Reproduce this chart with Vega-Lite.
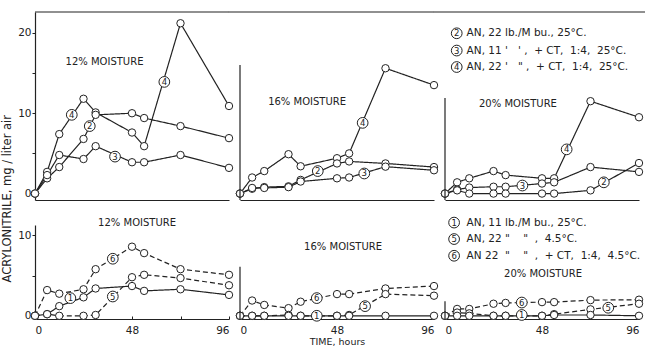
{
  "$schema": "https://vega.github.io/schema/vega-lite/v6.json",
  "background": "white",
  "padding": {"left": 2, "top": 11, "right": 0, "bottom": 0},
  "title": {"text": "ACRYLONITRILE, mg / liter air", "orient": "left", "anchor": "middle", "font": "DejaVu Sans", "fontSize": 11.5, "fontWeight": "normal", "color": "#222", "offset": 4, "dx": -20},
  "config": {
    "view": {"stroke": null},
    "axis": {"domainColor": "#222", "tickColor": "#222", "labelColor": "#222", "labelFont": "DejaVu Sans", "labelFontSize": 10.5, "titleFont": "DejaVu Sans", "titleFontWeight": "normal", "titleColor": "#222", "titleFontSize": 9.5, "grid": false, "domainWidth": 1.2, "tickWidth": 1},
    "line": {"color": "#222", "strokeWidth": 1.2},
    "rule": {"color": "#222", "strokeWidth": 1.2}
  },
  "datasets": {
    "series": [
      {"p":"T1","s":"4","d":"solid","t":0,"v":0},{"p":"T1","s":"4","d":"solid","t":6,"v":2.7},{"p":"T1","s":"4","d":"solid","t":12,"v":7.4},{"p":"T1","s":"4","d":"solid","t":24,"v":11.8},{"p":"T1","s":"4","d":"solid","t":30,"v":10.1},{"p":"T1","s":"4","d":"solid","t":48,"v":7.6},{"p":"T1","s":"4","d":"solid","t":54,"v":5.9},{"p":"T1","s":"4","d":"solid","t":72,"v":21.2},{"p":"T1","s":"4","d":"solid","t":96,"v":10.9},
      {"p":"T1","s":"2","d":"solid","t":0,"v":0},{"p":"T1","s":"2","d":"solid","t":6,"v":1.9},{"p":"T1","s":"2","d":"solid","t":12,"v":3.3},{"p":"T1","s":"2","d":"solid","t":24,"v":6.8},{"p":"T1","s":"2","d":"solid","t":30,"v":9.8},{"p":"T1","s":"2","d":"solid","t":48,"v":10.0},{"p":"T1","s":"2","d":"solid","t":54,"v":9.4},{"p":"T1","s":"2","d":"solid","t":72,"v":8.4},{"p":"T1","s":"2","d":"solid","t":96,"v":6.9},
      {"p":"T1","s":"3","d":"solid","t":0,"v":0},{"p":"T1","s":"3","d":"solid","t":6,"v":2.3},{"p":"T1","s":"3","d":"solid","t":12,"v":4.8},{"p":"T1","s":"3","d":"solid","t":24,"v":4.3},{"p":"T1","s":"3","d":"solid","t":30,"v":5.9},{"p":"T1","s":"3","d":"solid","t":48,"v":3.9},{"p":"T1","s":"3","d":"solid","t":54,"v":3.9},{"p":"T1","s":"3","d":"solid","t":72,"v":4.8},{"p":"T1","s":"3","d":"solid","t":96,"v":3.2},
      {"p":"T2","s":"4","d":"solid","t":0,"v":0},{"p":"T2","s":"4","d":"solid","t":6,"v":2.0},{"p":"T2","s":"4","d":"solid","t":12,"v":2.8},{"p":"T2","s":"4","d":"solid","t":24,"v":4.9},{"p":"T2","s":"4","d":"solid","t":30,"v":3.4},{"p":"T2","s":"4","d":"solid","t":48,"v":4.4},{"p":"T2","s":"4","d":"solid","t":54,"v":5.0},{"p":"T2","s":"4","d":"solid","t":72,"v":15.6},{"p":"T2","s":"4","d":"solid","t":96,"v":13.5},
      {"p":"T2","s":"2","d":"solid","t":0,"v":0},{"p":"T2","s":"2","d":"solid","t":6,"v":0.6},{"p":"T2","s":"2","d":"solid","t":12,"v":0.8},{"p":"T2","s":"2","d":"solid","t":24,"v":0.9},{"p":"T2","s":"2","d":"solid","t":30,"v":1.7},{"p":"T2","s":"2","d":"solid","t":48,"v":3.75},{"p":"T2","s":"2","d":"solid","t":54,"v":4.0},{"p":"T2","s":"2","d":"solid","t":72,"v":3.75},{"p":"T2","s":"2","d":"solid","t":96,"v":3.3},
      {"p":"T2","s":"3","d":"solid","t":0,"v":0},{"p":"T2","s":"3","d":"solid","t":6,"v":0.7},{"p":"T2","s":"3","d":"solid","t":12,"v":0.7},{"p":"T2","s":"3","d":"solid","t":24,"v":0.8},{"p":"T2","s":"3","d":"solid","t":30,"v":1.5},{"p":"T2","s":"3","d":"solid","t":48,"v":1.9},{"p":"T2","s":"3","d":"solid","t":54,"v":2.0},{"p":"T2","s":"3","d":"solid","t":72,"v":3.35},{"p":"T2","s":"3","d":"solid","t":96,"v":2.9},
      {"p":"T3","s":"4","d":"solid","t":0,"v":0},{"p":"T3","s":"4","d":"solid","t":6,"v":1.4},{"p":"T3","s":"4","d":"solid","t":12,"v":1.9},{"p":"T3","s":"4","d":"solid","t":24,"v":2.8},{"p":"T3","s":"4","d":"solid","t":30,"v":2.3},{"p":"T3","s":"4","d":"solid","t":48,"v":1.9},{"p":"T3","s":"4","d":"solid","t":54,"v":1.9},{"p":"T3","s":"4","d":"solid","t":72,"v":11.5},{"p":"T3","s":"4","d":"solid","t":96,"v":9.5},
      {"p":"T3","s":"3","d":"solid","t":0,"v":0},{"p":"T3","s":"3","d":"solid","t":6,"v":0.5},{"p":"T3","s":"3","d":"solid","t":12,"v":0.75},{"p":"T3","s":"3","d":"solid","t":24,"v":0.85},{"p":"T3","s":"3","d":"solid","t":30,"v":0.85},{"p":"T3","s":"3","d":"solid","t":48,"v":1.25},{"p":"T3","s":"3","d":"solid","t":54,"v":1.4},{"p":"T3","s":"3","d":"solid","t":72,"v":3.3},{"p":"T3","s":"3","d":"solid","t":96,"v":2.7},
      {"p":"T3","s":"2","d":"solid","t":0,"v":0},{"p":"T3","s":"2","d":"solid","t":6,"v":0.4},{"p":"T3","s":"2","d":"solid","t":12,"v":0},{"p":"T3","s":"2","d":"solid","t":24,"v":0},{"p":"T3","s":"2","d":"solid","t":30,"v":0},{"p":"T3","s":"2","d":"solid","t":48,"v":0},{"p":"T3","s":"2","d":"solid","t":54,"v":0},{"p":"T3","s":"2","d":"solid","t":72,"v":0.4},{"p":"T3","s":"2","d":"solid","t":96,"v":3.8},
      {"p":"B1","s":"6","d":"dashed","t":0,"v":0},{"p":"B1","s":"6","d":"dashed","t":6,"v":3.2},{"p":"B1","s":"6","d":"dashed","t":12,"v":2.75},{"p":"B1","s":"6","d":"dashed","t":24,"v":3.3},{"p":"B1","s":"6","d":"dashed","t":30,"v":5.8},{"p":"B1","s":"6","d":"dashed","t":48,"v":8.6},{"p":"B1","s":"6","d":"dashed","t":54,"v":7.8},{"p":"B1","s":"6","d":"dashed","t":72,"v":5.8},{"p":"B1","s":"6","d":"dashed","t":96,"v":5.1},
      {"p":"B1","s":"5","d":"dashed","t":0,"v":0},{"p":"B1","s":"5","d":"dashed","t":6,"v":0.2},{"p":"B1","s":"5","d":"dashed","t":12,"v":0},{"p":"B1","s":"5","d":"dashed","t":24,"v":0},{"p":"B1","s":"5","d":"dashed","t":30,"v":0.1},{"p":"B1","s":"5","d":"dashed","t":48,"v":4.8},{"p":"B1","s":"5","d":"dashed","t":54,"v":5.1},{"p":"B1","s":"5","d":"dashed","t":72,"v":4.7},{"p":"B1","s":"5","d":"dashed","t":96,"v":3.8},
      {"p":"B1","s":"1","d":"solid","t":0,"v":0},{"p":"B1","s":"1","d":"solid","t":6,"v":0.2},{"p":"B1","s":"1","d":"solid","t":12,"v":1.2},{"p":"B1","s":"1","d":"solid","t":24,"v":2.3},{"p":"B1","s":"1","d":"solid","t":30,"v":3.4},{"p":"B1","s":"1","d":"solid","t":48,"v":3.7},{"p":"B1","s":"1","d":"solid","t":54,"v":3.1},{"p":"B1","s":"1","d":"solid","t":72,"v":3.3},{"p":"B1","s":"1","d":"solid","t":96,"v":2.6},
      {"p":"B2","s":"6","d":"dashed","t":0,"v":0},{"p":"B2","s":"6","d":"dashed","t":6,"v":1.9},{"p":"B2","s":"6","d":"dashed","t":12,"v":1.35},{"p":"B2","s":"6","d":"dashed","t":24,"v":0.95},{"p":"B2","s":"6","d":"dashed","t":30,"v":1.75},{"p":"B2","s":"6","d":"dashed","t":48,"v":2.7},{"p":"B2","s":"6","d":"dashed","t":54,"v":2.7},{"p":"B2","s":"6","d":"dashed","t":72,"v":3.4},{"p":"B2","s":"6","d":"dashed","t":96,"v":3.7},
      {"p":"B2","s":"5","d":"dashed","t":0,"v":0},{"p":"B2","s":"5","d":"dashed","t":6,"v":0},{"p":"B2","s":"5","d":"dashed","t":12,"v":0},{"p":"B2","s":"5","d":"dashed","t":24,"v":0.1},{"p":"B2","s":"5","d":"dashed","t":30,"v":0},{"p":"B2","s":"5","d":"dashed","t":48,"v":0},{"p":"B2","s":"5","d":"dashed","t":54,"v":0.1},{"p":"B2","s":"5","d":"dashed","t":72,"v":2.7},{"p":"B2","s":"5","d":"dashed","t":96,"v":2.5},
      {"p":"B2","s":"1","d":"solid","t":0,"v":0},{"p":"B2","s":"1","d":"solid","t":6,"v":0},{"p":"B2","s":"1","d":"solid","t":12,"v":0},{"p":"B2","s":"1","d":"solid","t":24,"v":0},{"p":"B2","s":"1","d":"solid","t":30,"v":0},{"p":"B2","s":"1","d":"solid","t":48,"v":0},{"p":"B2","s":"1","d":"solid","t":54,"v":0},{"p":"B2","s":"1","d":"solid","t":72,"v":0},{"p":"B2","s":"1","d":"solid","t":96,"v":0},
      {"p":"B3","s":"6","d":"dashed","t":0,"v":0},{"p":"B3","s":"6","d":"dashed","t":6,"v":0.85},{"p":"B3","s":"6","d":"dashed","t":12,"v":0.85},{"p":"B3","s":"6","d":"dashed","t":24,"v":1.5},{"p":"B3","s":"6","d":"dashed","t":30,"v":1.6},{"p":"B3","s":"6","d":"dashed","t":48,"v":1.7},{"p":"B3","s":"6","d":"dashed","t":54,"v":1.7},{"p":"B3","s":"6","d":"dashed","t":72,"v":1.95},{"p":"B3","s":"6","d":"dashed","t":96,"v":2.0},
      {"p":"B3","s":"5","d":"dashed","t":0,"v":0},{"p":"B3","s":"5","d":"dashed","t":6,"v":0.4},{"p":"B3","s":"5","d":"dashed","t":12,"v":0.3},{"p":"B3","s":"5","d":"dashed","t":24,"v":0},{"p":"B3","s":"5","d":"dashed","t":30,"v":0},{"p":"B3","s":"5","d":"dashed","t":48,"v":0},{"p":"B3","s":"5","d":"dashed","t":54,"v":0.2},{"p":"B3","s":"5","d":"dashed","t":72,"v":0.8},{"p":"B3","s":"5","d":"dashed","t":96,"v":1.5},
      {"p":"B3","s":"1","d":"solid","t":0,"v":0},{"p":"B3","s":"1","d":"solid","t":6,"v":0},{"p":"B3","s":"1","d":"solid","t":12,"v":0},{"p":"B3","s":"1","d":"solid","t":24,"v":0},{"p":"B3","s":"1","d":"solid","t":30,"v":0},{"p":"B3","s":"1","d":"solid","t":48,"v":0},{"p":"B3","s":"1","d":"solid","t":54,"v":0.1},{"p":"B3","s":"1","d":"solid","t":72,"v":0.1},{"p":"B3","s":"1","d":"solid","t":96,"v":0}
    ],
    "labels": [
      {"p":"T1","t":18.2,"v":9.8,"n":"4"},{"p":"T1","t":64,"v":13.9,"n":"4"},{"p":"T1","t":27.1,"v":8.4,"n":"2"},{"p":"T1","t":39.6,"v":4.6,"n":"3"},
      {"p":"T2","t":60.7,"v":8.8,"n":"4"},{"p":"T2","t":38.5,"v":2.8,"n":"2"},{"p":"T2","t":61.5,"v":2.5,"n":"3"},
      {"p":"T3","t":60.2,"v":5.5,"n":"4"},{"p":"T3","t":38.3,"v":1.0,"n":"3"},{"p":"T3","t":78.6,"v":1.4,"n":"2"},
      {"p":"T3","t":5.8,"v":19.95,"n":"2"},{"p":"T3","t":5.8,"v":17.8,"n":"3"},{"p":"T3","t":5.8,"v":15.75,"n":"4"},
      {"p":"B1","t":38.5,"v":7.1,"n":"6"},{"p":"B1","t":17.5,"v":2.2,"n":"1"},{"p":"B1","t":38.5,"v":2.4,"n":"5"},
      {"p":"B2","t":38,"v":2.2,"n":"6"},{"p":"B2","t":38,"v":0,"n":"1"},{"p":"B2","t":61.9,"v":1.2,"n":"5"},
      {"p":"B3","t":38,"v":1.65,"n":"6"},{"p":"B3","t":38,"v":0.1,"n":"1"},{"p":"B3","t":80.8,"v":1.0,"n":"5"},
      {"p":"B3","t":4.5,"v":11.6,"n":"1"},{"p":"B3","t":4.5,"v":9.55,"n":"5"},{"p":"B3","t":4.5,"v":7.47,"n":"6"}
    ],
    "notes": [
      {"p":"T1","k":"c","t":34.4,"v":16.4,"text":"12% MOISTURE"},
      {"p":"T2","k":"c","t":33.2,"v":11.4,"text":"16% MOISTURE"},
      {"p":"T3","k":"c","t":36.1,"v":11.2,"text":"20% MOISTURE"},
      {"p":"B1","k":"c","t":50.5,"v":11.6,"text":"12% MOISTURE"},
      {"p":"B2","k":"c","t":51,"v":8.5,"text":"16% MOISTURE"},
      {"p":"B3","k":"c","t":48.5,"v":5.2,"text":"20% MOISTURE"},
      {"p":"T3","k":"l","t":10.7,"v":19.95,"text":"AN, 22 lb./M bu., 25°C."},
      {"p":"T3","k":"l","t":10.7,"v":17.8,"text":"AN, 11\u00a0'\u00a0\u00a0\u00a0'\u00a0,\u00a0\u00a0+\u00a0CT,\u00a0\u00a01:4,\u00a0\u00a025°C."},
      {"p":"T3","k":"l","t":10.7,"v":15.75,"text":"AN, 22\u00a0'\u00a0\u00a0\u00a0\"\u00a0,\u00a0\u00a0+\u00a0CT,\u00a0\u00a01:4,\u00a0\u00a025°C."},
      {"p":"B3","k":"l","t":10.7,"v":11.6,"text":"AN, 11 lb./M bu., 25°C."},
      {"p":"B3","k":"l","t":10.7,"v":9.55,"text":"AN, 22\u00a0\"\u00a0\u00a0\u00a0\u00a0\"\u00a0\u00a0,\u00a0\u00a04.5°C."},
      {"p":"B3","k":"l","t":10.7,"v":7.47,"text":"AN 22\u00a0\u00a0\"\u00a0\u00a0\u00a0\u00a0\"\u00a0\u00a0,\u00a0\u00a0+\u00a0CT,\u00a0\u00a01:4,\u00a0\u00a04.5°C."}
    ],
    "frame": [
      {"p":"T1","t":0,"t2":96,"v":22.6,"v2":22.6},
      {"p":"T2","t":-5.5,"t2":96,"v":22.6,"v2":22.6},
      {"p":"T2","t":0,"t2":0,"v":-0.8,"v2":16.0},
      {"p":"T3","t":-5.5,"t2":99,"v":22.6,"v2":22.6},
      {"p":"T3","t":0,"t2":0,"v":-0.8,"v2":11.9},
      {"p":"B2","t":0,"t2":0,"v":-0.4,"v2":6.1},
      {"p":"B3","t":0,"t2":0,"v":-0.4,"v2":1.8}
    ]
  },
  "spacing": 14,
  "vconcat": [
    {
      "spacing": 11,
      "bounds": "flush",
      "hconcat": [
        {
          "width": 194, "height": 188,
          "encoding": {
            "x": {"field": "t", "type": "quantitative", "scale": {"domain": [0, 96]}, "axis": {"title": null, "labels": false, "ticks": false}},
            "y": {"field": "v", "type": "quantitative", "scale": {"domain": [-0.8, 22.6]}, "axis": {"title": null, "values": [0, 5, 10, 15, 20], "labelExpr": "datum.value % 10 === 0 ? datum.label : ''", "tickSize": 3, "labelPadding": 1}}
          },
          "layer": [
            {"data": {"name": "series"}, "transform": [{"filter": "datum.p === 'T1'"}], "mark": "line",
             "encoding": {"detail": {"field": "s"}, "strokeDash": {"field": "d", "type": "nominal", "scale": {"domain": ["solid", "dashed"], "range": [[1, 0], [5, 3]]}, "legend": null}}},
            {"data": {"name": "series"}, "transform": [{"filter": "datum.p === 'T1'"}],
             "mark": {"type": "point", "shape": "circle", "filled": true, "fill": "white", "stroke": "#222", "strokeWidth": 1, "size": 55, "opacity": 1}},
            {"data": {"name": "labels"}, "transform": [{"filter": "datum.p === 'T1'"}],
             "mark": {"type": "point", "shape": "circle", "filled": true, "fill": "white", "stroke": "#222", "strokeWidth": 1, "size": 115, "opacity": 1}},
            {"data": {"name": "labels"}, "transform": [{"filter": "datum.p === 'T1'"}],
             "mark": {"type": "text", "font": "DejaVu Sans", "fontSize": 8.5, "color": "#222", "align": "center", "baseline": "middle"},
             "encoding": {"text": {"field": "n"}}},
            {"data": {"name": "notes"}, "transform": [{"filter": "datum.p === 'T1' && datum.k === 'c'"}],
             "mark": {"type": "text", "font": "DejaVu Sans", "fontSize": 10, "color": "#222", "align": "center", "baseline": "middle"},
             "encoding": {"text": {"field": "text"}}},
            {"data": {"name": "frame"}, "transform": [{"filter": "datum.p === 'T1'"}], "mark": "rule",
             "encoding": {"x2": {"field": "t2"}, "y2": {"field": "v2"}}}
          ]
        },
        {
          "width": 194, "height": 188,
          "encoding": {
            "x": {"field": "t", "type": "quantitative", "scale": {"domain": [0, 96]}, "axis": {"title": null, "labels": false, "ticks": false}},
            "y": {"field": "v", "type": "quantitative", "scale": {"domain": [-0.8, 22.6]}, "axis": null}
          },
          "layer": [
            {"data": {"name": "series"}, "transform": [{"filter": "datum.p === 'T2'"}], "mark": "line",
             "encoding": {"detail": {"field": "s"}, "strokeDash": {"field": "d", "type": "nominal", "scale": {"domain": ["solid", "dashed"], "range": [[1, 0], [5, 3]]}, "legend": null}}},
            {"data": {"name": "series"}, "transform": [{"filter": "datum.p === 'T2'"}],
             "mark": {"type": "point", "shape": "circle", "filled": true, "fill": "white", "stroke": "#222", "strokeWidth": 1, "size": 55, "opacity": 1}},
            {"data": {"name": "labels"}, "transform": [{"filter": "datum.p === 'T2'"}],
             "mark": {"type": "point", "shape": "circle", "filled": true, "fill": "white", "stroke": "#222", "strokeWidth": 1, "size": 115, "opacity": 1}},
            {"data": {"name": "labels"}, "transform": [{"filter": "datum.p === 'T2'"}],
             "mark": {"type": "text", "font": "DejaVu Sans", "fontSize": 8.5, "color": "#222", "align": "center", "baseline": "middle"},
             "encoding": {"text": {"field": "n"}}},
            {"data": {"name": "notes"}, "transform": [{"filter": "datum.p === 'T2' && datum.k === 'c'"}],
             "mark": {"type": "text", "font": "DejaVu Sans", "fontSize": 10, "color": "#222", "align": "center", "baseline": "middle"},
             "encoding": {"text": {"field": "text"}}},
            {"data": {"name": "frame"}, "transform": [{"filter": "datum.p === 'T2'"}], "mark": "rule",
             "encoding": {"x2": {"field": "t2"}, "y2": {"field": "v2"}}}
          ]
        },
        {
          "width": 194, "height": 188,
          "encoding": {
            "x": {"field": "t", "type": "quantitative", "scale": {"domain": [0, 96]}, "axis": {"title": null, "labels": false, "ticks": false}},
            "y": {"field": "v", "type": "quantitative", "scale": {"domain": [-0.8, 22.6]}, "axis": null}
          },
          "layer": [
            {"data": {"name": "series"}, "transform": [{"filter": "datum.p === 'T3'"}], "mark": "line",
             "encoding": {"detail": {"field": "s"}, "strokeDash": {"field": "d", "type": "nominal", "scale": {"domain": ["solid", "dashed"], "range": [[1, 0], [5, 3]]}, "legend": null}}},
            {"data": {"name": "series"}, "transform": [{"filter": "datum.p === 'T3'"}],
             "mark": {"type": "point", "shape": "circle", "filled": true, "fill": "white", "stroke": "#222", "strokeWidth": 1, "size": 55, "opacity": 1}},
            {"data": {"name": "labels"}, "transform": [{"filter": "datum.p === 'T3'"}],
             "mark": {"type": "point", "shape": "circle", "filled": true, "fill": "white", "stroke": "#222", "strokeWidth": 1, "size": 115, "opacity": 1}},
            {"data": {"name": "labels"}, "transform": [{"filter": "datum.p === 'T3'"}],
             "mark": {"type": "text", "font": "DejaVu Sans", "fontSize": 8.5, "color": "#222", "align": "center", "baseline": "middle"},
             "encoding": {"text": {"field": "n"}}},
            {"data": {"name": "notes"}, "transform": [{"filter": "datum.p === 'T3' && datum.k === 'c'"}],
             "mark": {"type": "text", "font": "DejaVu Sans", "fontSize": 10, "color": "#222", "align": "center", "baseline": "middle"},
             "encoding": {"text": {"field": "text"}}},
            {"data": {"name": "notes"}, "transform": [{"filter": "datum.p === 'T3' && datum.k === 'l'"}],
             "mark": {"type": "text", "font": "DejaVu Sans", "fontSize": 10.5, "color": "#222", "align": "left", "baseline": "middle"},
             "encoding": {"text": {"field": "text"}}},
            {"data": {"name": "frame"}, "transform": [{"filter": "datum.p === 'T3'"}], "mark": "rule",
             "encoding": {"x2": {"field": "t2"}, "y2": {"field": "v2"}}}
          ]
        }
      ]
    },
    {
      "spacing": 11,
      "bounds": "flush",
      "hconcat": [
        {
          "width": 194, "height": 94,
          "encoding": {
            "x": {"field": "t", "type": "quantitative", "scale": {"domain": [0, 96]}, "axis": {"title": null, "values": [0, 24, 48, 72, 96], "labelExpr": "datum.value % 48 === 0 ? datum.label : ''", "tickSize": -3, "labelPadding": 9}},
            "y": {"field": "v", "type": "quantitative", "scale": {"domain": [-0.4, 11.3]}, "axis": {"title": null, "values": [0, 5, 10], "labelExpr": "datum.value % 10 === 0 ? datum.label : ''", "tickSize": 3, "labelPadding": 1}}
          },
          "layer": [
            {"data": {"name": "series"}, "transform": [{"filter": "datum.p === 'B1'"}], "mark": "line",
             "encoding": {"detail": {"field": "s"}, "strokeDash": {"field": "d", "type": "nominal", "scale": {"domain": ["solid", "dashed"], "range": [[1, 0], [5, 3]]}, "legend": null}}},
            {"data": {"name": "series"}, "transform": [{"filter": "datum.p === 'B1'"}],
             "mark": {"type": "point", "shape": "circle", "filled": true, "fill": "white", "stroke": "#222", "strokeWidth": 1, "size": 55, "opacity": 1}},
            {"data": {"name": "labels"}, "transform": [{"filter": "datum.p === 'B1'"}],
             "mark": {"type": "point", "shape": "circle", "filled": true, "fill": "white", "stroke": "#222", "strokeWidth": 1, "size": 115, "opacity": 1}},
            {"data": {"name": "labels"}, "transform": [{"filter": "datum.p === 'B1'"}],
             "mark": {"type": "text", "font": "DejaVu Sans", "fontSize": 8.5, "color": "#222", "align": "center", "baseline": "middle"},
             "encoding": {"text": {"field": "n"}}},
            {"data": {"name": "notes"}, "transform": [{"filter": "datum.p === 'B1' && datum.k === 'c'"}],
             "mark": {"type": "text", "font": "DejaVu Sans", "fontSize": 10, "color": "#222", "align": "center", "baseline": "middle"},
             "encoding": {"text": {"field": "text"}}}
          ]
        },
        {
          "width": 194, "height": 94,
          "encoding": {
            "x": {"field": "t", "type": "quantitative", "scale": {"domain": [0, 96]}, "axis": {"title": "TIME, hours", "titlePadding": 1, "values": [0, 24, 48, 72, 96], "labelExpr": "datum.value % 48 === 0 ? datum.label : ''", "tickSize": -3, "labelPadding": 9}},
            "y": {"field": "v", "type": "quantitative", "scale": {"domain": [-0.4, 11.3]}, "axis": null}
          },
          "layer": [
            {"data": {"name": "series"}, "transform": [{"filter": "datum.p === 'B2'"}], "mark": "line",
             "encoding": {"detail": {"field": "s"}, "strokeDash": {"field": "d", "type": "nominal", "scale": {"domain": ["solid", "dashed"], "range": [[1, 0], [5, 3]]}, "legend": null}}},
            {"data": {"name": "series"}, "transform": [{"filter": "datum.p === 'B2'"}],
             "mark": {"type": "point", "shape": "circle", "filled": true, "fill": "white", "stroke": "#222", "strokeWidth": 1, "size": 55, "opacity": 1}},
            {"data": {"name": "labels"}, "transform": [{"filter": "datum.p === 'B2'"}],
             "mark": {"type": "point", "shape": "circle", "filled": true, "fill": "white", "stroke": "#222", "strokeWidth": 1, "size": 115, "opacity": 1}},
            {"data": {"name": "labels"}, "transform": [{"filter": "datum.p === 'B2'"}],
             "mark": {"type": "text", "font": "DejaVu Sans", "fontSize": 8.5, "color": "#222", "align": "center", "baseline": "middle"},
             "encoding": {"text": {"field": "n"}}},
            {"data": {"name": "notes"}, "transform": [{"filter": "datum.p === 'B2' && datum.k === 'c'"}],
             "mark": {"type": "text", "font": "DejaVu Sans", "fontSize": 10, "color": "#222", "align": "center", "baseline": "middle"},
             "encoding": {"text": {"field": "text"}}},
            {"data": {"name": "frame"}, "transform": [{"filter": "datum.p === 'B2'"}], "mark": "rule",
             "encoding": {"x2": {"field": "t2"}, "y2": {"field": "v2"}}}
          ]
        },
        {
          "width": 194, "height": 94,
          "encoding": {
            "x": {"field": "t", "type": "quantitative", "scale": {"domain": [0, 96]}, "axis": {"title": null, "values": [0, 24, 48, 72, 96], "labelExpr": "datum.value % 48 === 0 ? datum.label : ''", "tickSize": -3, "labelPadding": 9}},
            "y": {"field": "v", "type": "quantitative", "scale": {"domain": [-0.4, 11.3]}, "axis": null}
          },
          "layer": [
            {"data": {"name": "series"}, "transform": [{"filter": "datum.p === 'B3'"}], "mark": "line",
             "encoding": {"detail": {"field": "s"}, "strokeDash": {"field": "d", "type": "nominal", "scale": {"domain": ["solid", "dashed"], "range": [[1, 0], [5, 3]]}, "legend": null}}},
            {"data": {"name": "series"}, "transform": [{"filter": "datum.p === 'B3'"}],
             "mark": {"type": "point", "shape": "circle", "filled": true, "fill": "white", "stroke": "#222", "strokeWidth": 1, "size": 55, "opacity": 1}},
            {"data": {"name": "labels"}, "transform": [{"filter": "datum.p === 'B3'"}],
             "mark": {"type": "point", "shape": "circle", "filled": true, "fill": "white", "stroke": "#222", "strokeWidth": 1, "size": 115, "opacity": 1}},
            {"data": {"name": "labels"}, "transform": [{"filter": "datum.p === 'B3'"}],
             "mark": {"type": "text", "font": "DejaVu Sans", "fontSize": 8.5, "color": "#222", "align": "center", "baseline": "middle"},
             "encoding": {"text": {"field": "n"}}},
            {"data": {"name": "notes"}, "transform": [{"filter": "datum.p === 'B3' && datum.k === 'c'"}],
             "mark": {"type": "text", "font": "DejaVu Sans", "fontSize": 10, "color": "#222", "align": "center", "baseline": "middle"},
             "encoding": {"text": {"field": "text"}}},
            {"data": {"name": "notes"}, "transform": [{"filter": "datum.p === 'B3' && datum.k === 'l'"}],
             "mark": {"type": "text", "font": "DejaVu Sans", "fontSize": 10.5, "color": "#222", "align": "left", "baseline": "middle"},
             "encoding": {"text": {"field": "text"}}},
            {"data": {"name": "frame"}, "transform": [{"filter": "datum.p === 'B3'"}], "mark": "rule",
             "encoding": {"x2": {"field": "t2"}, "y2": {"field": "v2"}}}
          ]
        }
      ]
    }
  ]
}
